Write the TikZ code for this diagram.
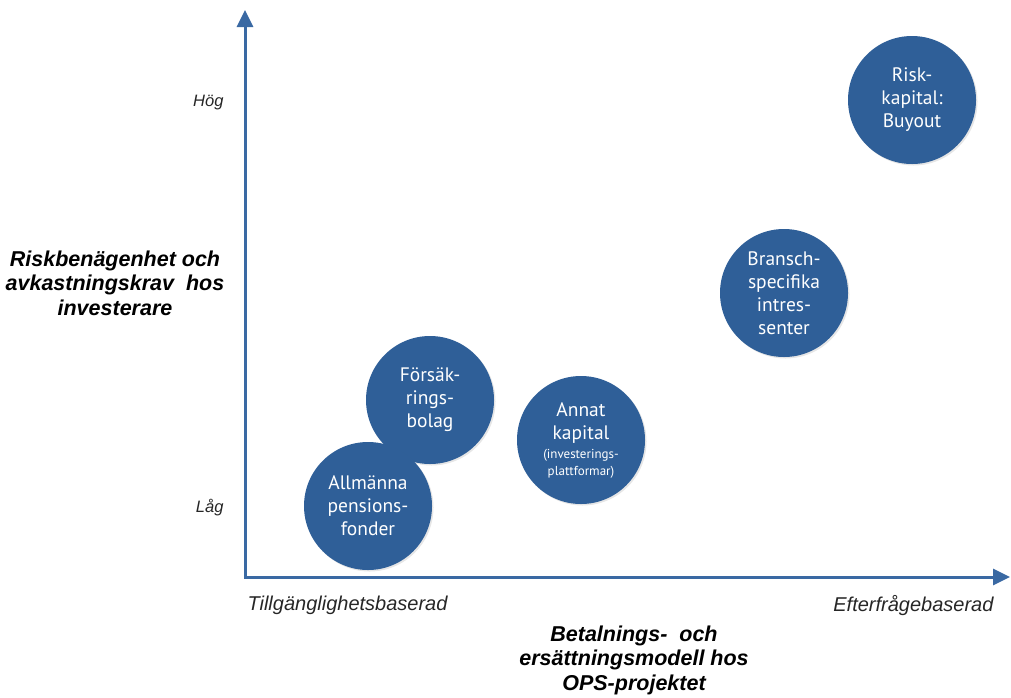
\documentclass[tikz,border=0pt]{standalone}
\usepackage{fontspec}
\setmainfont{Liberation Sans}
\newfontfamily\circfont{PT Sans}
\usetikzlibrary{arrows.meta,shadows}
\definecolor{opsblue}{HTML}{2F5F98}
\definecolor{axisblue}{HTML}{3A69A3}
\tikzset{
  actor/.style={circle, fill=opsblue, minimum size=128pt, inner sep=0pt,
    text=white, align=center, font=\circfont\fontsize{19.5}{23}\selectfont,
    drop shadow={opacity=0.2, shadow xshift=1.5pt, shadow yshift=-1.5pt}},
  level/.style={font=\itshape\fontsize{16.5}{18}\selectfont, text=black!85},
  endlabel/.style={font=\itshape\fontsize{20}{22}\selectfont, text=black!85},
  title/.style={font=\bfseries\itshape\fontsize{21.5}{24.5}\selectfont, align=center}
}
\begin{document}
\begin{tikzpicture}[x=1pt, y=-1pt]
    \useasboundingbox (0,0) rectangle (1011,697);
    % axes
    \coordinate (orig) at (245,577);
    \coordinate (ytop) at (245,10);
    \coordinate (xend) at (1010,577);
    \draw[axisblue, line width=3pt, {Triangle[length=17pt,width=16pt]}-{Triangle[length=17pt,width=16pt]}]
        (ytop) -- (orig) -- (xend);
    % axis texts
    \node[level, anchor=east] (hog) at (227,103) {Hög};
    \node[level, anchor=east] (lag) at (227,508) {Låg};
    \node[title] (ytitle) at (115,283) {Riskbenägenhet och\\avkastningskrav\ \ hos\\investerare};
    \node[endlabel, anchor=west] (tillg) at (244,605) {Tillgänglighetsbaserad};
    \node[endlabel, anchor=east] (efterfr) at (997,605) {Efterfrågebaserad};
    \node[title] (xtitle) at (634,660) {Betalnings-\ \ och\\ersättningsmodell hos\\OPS-projektet};
    % investors
    \node[actor] (forsak) at (430,400) {Försäk-\\rings-\\bolag};
    \node[actor] (allm) at (368,506) {Allmänna\\pensions-\\fonder};
    \node[actor] (annat) at (581,440) {Annat\\kapital\\[-4pt]{\fontsize{13}{14}\selectfont (investerings-}\\[-6pt]{\fontsize{13}{14}\selectfont plattformar)}};
    \node[actor] (bransch) at (784,293) {Bransch-\\specifika\\intres-\\senter};
    \node[actor] (risk) at (912,100) {Risk-\\kapital:\\Buyout};
\end{tikzpicture}
\end{document}
